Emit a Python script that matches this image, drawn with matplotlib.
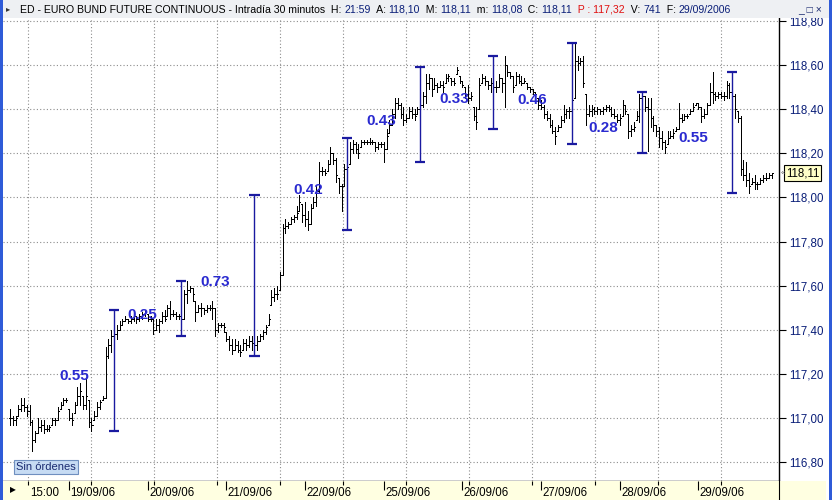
import numpy as np
import matplotlib
matplotlib.use("Agg")
import matplotlib.pyplot as plt
from matplotlib.patches import Rectangle
import matplotlib.transforms as mtransforms

plt.rcParams['font.family'] = ['Liberation Sans', 'DejaVu Sans']

# ---------------- data ----------------
day_labels = ['19/09/06', '20/09/06', '21/09/06', '22/09/06', '25/09/06',
              '26/09/06', '27/09/06', '28/09/06', '29/09/06']
day_start = [0, 21, 49, 77, 105, 133, 161, 189, 217, 245]

highs = [
    # 18/09
    117.04, 117.01, 117.01, 117.06, 117.09, 117.09, 117.06, 117.06, 116.99, 116.94, 117.00,
    116.99, 116.99, 116.97, 116.97, 117.00, 117.00, 117.05, 117.07, 117.09, 117.09,
    # 19/09
    117.04, 117.02, 117.07, 117.14, 117.16, 117.10, 117.18, 117.08, 117.00, 117.03, 117.07,
    117.08, 117.10, 117.32, 117.36, 117.40, 117.42, 117.42, 117.44, 117.45, 117.46, 117.45,
    117.46, 117.47, 117.46, 117.47, 117.48, 117.49,
    # 20/09
    117.47, 117.46, 117.45, 117.45, 117.45, 117.48, 117.49, 117.51, 117.53, 117.49, 117.48,
    117.47, 117.47, 117.58, 117.62, 117.60, 117.59, 117.53, 117.51, 117.52, 117.50, 117.51,
    117.51, 117.53, 117.50, 117.43, 117.43, 117.43,
    # 21/09
    117.39, 117.37, 117.36, 117.36, 117.35, 117.33, 117.36, 117.36, 117.37, 117.37, 117.38,
    117.37, 117.38, 117.40, 117.42, 117.47, 117.58, 117.59, 117.60, 117.66, 117.88, 117.90,
    117.89, 117.91, 117.92, 117.96, 118.01, 117.97,
    # 22/09
    117.98, 117.94, 117.97, 118.00, 118.05, 118.16, 118.14, 118.13, 118.17, 118.23, 118.20,
    118.18, 118.09, 118.06, 118.15, 118.16, 118.25, 118.26, 118.25, 118.24, 118.26, 118.26,
    118.26, 118.27, 118.26, 118.25, 118.25, 118.25,
    # 25/09
    118.25, 118.31, 118.35, 118.40, 118.45, 118.45, 118.43, 118.41, 118.38, 118.41, 118.41,
    118.40, 118.41, 118.44, 118.48, 118.56, 118.56, 118.54, 118.54, 118.52, 118.53, 118.53,
    118.56, 118.56, 118.54, 118.54, 118.59, 118.55,
    # 26/09
    118.53, 118.50, 118.51, 118.48, 118.41, 118.41, 118.54, 118.56, 118.55, 118.53, 118.54,
    118.52, 118.53, 118.56, 118.54, 118.64, 118.60, 118.57, 118.55, 118.57, 118.56, 118.55,
    118.54, 118.52, 118.50, 118.49, 118.48, 118.45,
    # 27/09
    118.44, 118.42, 118.39, 118.38, 118.35, 118.32, 118.33, 118.37, 118.42, 118.40, 118.41,
    118.46, 118.70, 118.64, 118.63, 118.64, 118.47, 118.42, 118.42, 118.41, 118.41, 118.40,
    118.41, 118.42, 118.42, 118.41, 118.40, 118.38,
    # 28/09
    118.38, 118.44, 118.42, 118.38, 118.33, 118.34, 118.39, 118.47, 118.48, 118.46, 118.45,
    118.45, 118.37, 118.33, 118.32, 118.30, 118.26, 118.30, 118.30, 118.31, 118.32, 118.43,
    118.38, 118.38, 118.38, 118.40, 118.43, 118.43,
    # 29/09
    118.43, 118.41, 118.40, 118.43, 118.52, 118.57, 118.48, 118.48, 118.48, 118.48, 118.53,
    118.52, 118.49, 118.47, 118.39, 118.37, 118.17, 118.16, 118.11, 118.09, 118.10, 118.07,
    118.09, 118.10, 118.11, 118.11, 118.11,
]

lows = [
    # 18/09
    116.97, 116.97, 116.97, 117.01, 117.03, 117.03, 117.01, 116.97, 116.85, 116.89, 116.93,
    116.94, 116.93, 116.94, 116.94, 116.97, 116.97, 116.99, 117.04, 117.06, 117.07,
    # 19/09
    116.99, 116.97, 117.02, 117.06, 117.06, 117.04, 117.04, 116.96, 116.94, 116.99, 117.01,
    117.04, 117.08, 117.09, 117.27, 117.30, 117.35, 117.36, 117.40, 117.42, 117.44, 117.43,
    117.43, 117.44, 117.43, 117.44, 117.45, 117.46,
    # 20/09
    117.44, 117.44, 117.38, 117.40, 117.39, 117.43, 117.44, 117.46, 117.45, 117.46, 117.45,
    117.45, 117.44, 117.45, 117.52, 117.57, 117.53, 117.44, 117.48, 117.46, 117.47, 117.48,
    117.49, 117.45, 117.37, 117.39, 117.41, 117.39,
    # 21/09
    117.35, 117.31, 117.29, 117.31, 117.30, 117.28, 117.31, 117.31, 117.32, 117.31, 117.30,
    117.31, 117.35, 117.36, 117.38, 117.42, 117.51, 117.53, 117.54, 117.58, 117.65, 117.84,
    117.86, 117.88, 117.89, 117.90, 117.94, 117.89,
    # 22/09
    117.87, 117.85, 117.88, 117.95, 117.96, 118.02, 118.10, 118.10, 118.12, 118.15, 118.15,
    118.07, 118.02, 117.94, 118.05, 118.12, 118.15, 118.20, 118.20, 118.18, 118.23, 118.24,
    118.24, 118.24, 118.24, 118.21, 118.22, 118.23,
    # 25/09
    118.16, 118.22, 118.29, 118.33, 118.36, 118.40, 118.36, 118.33, 118.34, 118.36, 118.36,
    118.35, 118.38, 118.37, 118.41, 118.43, 118.49, 118.46, 118.49, 118.48, 118.50, 118.48,
    118.52, 118.53, 118.51, 118.51, 118.56, 118.52,
    # 26/09
    118.50, 118.45, 118.43, 118.44, 118.35, 118.31, 118.40, 118.52, 118.51, 118.49, 118.48,
    118.47, 118.48, 118.50, 118.48, 118.41, 118.55, 118.54, 118.48, 118.51, 118.52, 118.51,
    118.52, 118.49, 118.48, 118.47, 118.46, 118.40,
    # 27/09
    118.40, 118.36, 118.35, 118.32, 118.29, 118.24, 118.30, 118.32, 118.34, 118.36, 118.36,
    118.39, 118.45, 118.58, 118.60, 118.50, 118.33, 118.37, 118.37, 118.38, 118.38, 118.38,
    118.38, 118.39, 118.39, 118.37, 118.36, 118.34,
    # 28/09
    118.33, 118.37, 118.38, 118.27, 118.28, 118.30, 118.35, 118.34, 118.42, 118.39, 118.21,
    118.32, 118.30, 118.28, 118.23, 118.22, 118.20, 118.24, 118.27, 118.27, 118.30, 118.31,
    118.34, 118.35, 118.36, 118.38, 118.39, 118.42,
    # 29/09
    118.40, 118.34, 118.36, 118.38, 118.42, 118.43, 118.44, 118.45, 118.45, 118.44, 118.45,
    118.45, 118.45, 118.36, 118.34, 118.10, 118.08, 118.05, 118.02, 118.06, 118.04, 118.04,
    118.06, 118.07, 118.08, 118.09, 118.09,
]

closes = [
    # 18/09
    117.00, 116.99, 117.00, 117.04, 117.06, 117.05, 117.03, 116.98, 116.90, 116.93, 116.96,
    116.97, 116.95, 116.95, 116.96, 116.99, 116.99, 117.03, 117.06, 117.08, 117.08,
    # 19/09
    117.00, 116.99, 117.06, 117.10, 117.12, 117.06, 117.10, 116.98, 116.97, 117.01, 117.05,
    117.07, 117.09, 117.28, 117.33, 117.37, 117.38, 117.40, 117.42, 117.44, 117.45, 117.44,
    117.45, 117.46, 117.45, 117.46, 117.47, 117.48,
    # 20/09
    117.45, 117.45, 117.40, 117.42, 117.44, 117.46, 117.45, 117.50, 117.47, 117.47, 117.46,
    117.46, 117.45, 117.56, 117.58, 117.59, 117.56, 117.48, 117.50, 117.50, 117.49, 117.50,
    117.50, 117.50, 117.40, 117.42, 117.42, 117.41,
    # 21/09
    117.36, 117.33, 117.31, 117.33, 117.31, 117.30, 117.34, 117.33, 117.35, 117.34, 117.33,
    117.35, 117.37, 117.39, 117.41, 117.45, 117.55, 117.56, 117.56, 117.65, 117.86, 117.87,
    117.88, 117.90, 117.91, 117.93, 117.98, 117.92,
    # 22/09
    117.90, 117.88, 117.95, 117.98, 118.03, 118.12, 118.12, 118.11, 118.15, 118.20, 118.17,
    118.10, 118.05, 118.00, 118.13, 118.14, 118.22, 118.24, 118.22, 118.20, 118.25, 118.25,
    118.25, 118.25, 118.25, 118.23, 118.24, 118.24,
    # 25/09
    118.22, 118.28, 118.33, 118.38, 118.43, 118.42, 118.38, 118.35, 118.36, 118.39, 118.38,
    118.37, 118.40, 118.42, 118.46, 118.52, 118.54, 118.49, 118.51, 118.50, 118.51, 118.50,
    118.54, 118.55, 118.53, 118.52, 118.58, 118.53,
    # 26/09
    118.51, 118.47, 118.45, 118.46, 118.37, 118.34, 118.51, 118.54, 118.53, 118.51, 118.52,
    118.50, 118.50, 118.54, 118.52, 118.60, 118.57, 118.55, 118.50, 118.55, 118.53, 118.52,
    118.53, 118.50, 118.49, 118.48, 118.47, 118.42,
    # 27/09
    118.41, 118.38, 118.36, 118.33, 118.30, 118.28, 118.32, 118.35, 118.38, 118.39, 118.39,
    118.44, 118.62, 118.61, 118.62, 118.52, 118.38, 118.39, 118.40, 118.39, 118.40, 118.39,
    118.40, 118.41, 118.40, 118.38, 118.37, 118.35,
    # 28/09
    118.36, 118.42, 118.39, 118.30, 118.31, 118.32, 118.37, 118.45, 118.46, 118.41, 118.40,
    118.36, 118.33, 118.30, 118.27, 118.25, 118.23, 118.27, 118.28, 118.29, 118.31, 118.36,
    118.35, 118.37, 118.37, 118.39, 118.41, 118.43,
    # 29/09
    118.41, 118.37, 118.38, 118.42, 118.48, 118.47, 118.46, 118.47, 118.46, 118.46, 118.51,
    118.48, 118.46, 118.40, 118.36, 118.13, 118.10, 118.08, 118.05, 118.07, 118.06, 118.06,
    118.08, 118.09, 118.09, 118.10, 118.11,
]

range_bar = [37, 61, 87, 120, 146, 172, 200, 225, 257]
range_text = ['0.55', '0.25', '0.73', '0.42', '0.43', '0.33', '0.46', '0.28', '0.55']

price_ticks = [116.8, 117.0, 117.2, 117.4, 117.6, 117.8, 118.0, 118.2, 118.4, 118.6, 118.8]
price_tick_labels = ['116,80', '117,00', '117,20', '117,40', '117,60', '117,80',
                     '118,00', '118,20', '118,40', '118,60', '118,80']
last_price_label = '118,11'
first_time_label = '15:00'

title_parts = [
    ("ED - EURO BUND FUTURE CONTINUOUS - Intradía 30 minutos  H: ", 'black'),
    ("21:59", '#0A1E78'), ("  A: ", 'black'), ("118,10", '#0A1E78'),
    ("  M: ", 'black'), ("118,11", '#0A1E78'), ("  m: ", 'black'), ("118,08", '#0A1E78'),
    ("  C: ", 'black'), ("118,11", '#0A1E78'), ("  P : 117,32", '#E01010'),
    ("  V: ", 'black'), ("741", '#0A1E78'), ("  F: ", 'black'), ("29/09/2006", '#0A1E78'),
]

# ---------------- figure ----------------
W, Hpx = 832, 500
fig = plt.figure(figsize=(W / 100, Hpx / 100), dpi=100)
fig.patch.set_facecolor('white')

def fx(px):
    return px / W

def fy(py):
    return 1 - py / Hpx

PX_PER_BAR = 2.81
X0PX = 10.0
AX_L, AX_R, AX_T, AX_B = 3, 779, 18, 481
xlim = ((AX_L - X0PX) / PX_PER_BAR, (AX_R - X0PX) / PX_PER_BAR)
PX_PER_PT = 220.5
ylim = (116.8 - (AX_B - 462) / PX_PER_PT, 116.8 + (462 - AX_T) / PX_PER_PT)

ax = fig.add_axes([fx(AX_L), fy(AX_B), fx(AX_R - AX_L), (AX_B - AX_T) / Hpx])
ax.set_xlim(*xlim)
ax.set_ylim(*ylim)
ax.set_facecolor('white')

grid_x = 6.4 + 22.42 * np.arange(12)
ax.set_xticks(grid_x)
ax.tick_params(axis='x', length=0, labelbottom=False)
ax.yaxis.tick_right()
ax.set_yticks(price_ticks, price_tick_labels)
ax.tick_params(axis='y', length=5, width=0.8, colors='black', pad=2,
               labelsize=8.3, labelcolor='#0A1E78')
ax.grid(True, color='#8c8c8c', linestyle=(0, (1, 2)), linewidth=0.8)
ax.set_axisbelow(True)
for s in ['left', 'top']:
    ax.spines[s].set_visible(False)
for s in ['right', 'bottom']:
    ax.spines[s].set_color('black')
    ax.spines[s].set_linewidth(1.0)

H = np.array(highs)
L = np.array(lows)
C = np.array(closes)
x = np.arange(len(C))
O = np.clip(np.r_[C[0], C[:-1]], L, H)

TICK = 0.36
ax.vlines(x, L, H, colors='black', linewidth=0.7, antialiased=False, zorder=3)
ax.hlines(O, x - TICK, x, colors='black', linewidth=0.7, antialiased=False, zorder=3)
ax.hlines(C, x, x + TICK, colors='black', linewidth=0.7, antialiased=False, zorder=3)

# daily range markers
bounds = day_start + [len(C)]
rng_col = '#1A1AA0'
for k, (rb, txt) in enumerate(zip(range_bar, range_text)):
    a, b = bounds[k + 1], bounds[k + 2]
    hi, lo = H[a:b].max(), L[a:b].min()
    ax.vlines(rb, lo, hi, colors=rng_col, linewidth=1.0, zorder=4)
    ax.hlines([lo, hi], rb - 1.8, rb + 1.8, colors=rng_col, linewidth=1.6, zorder=4)
    ax.annotate(txt, xy=(rb - 14, (hi + lo) / 2), xytext=(0, -6),
                textcoords='offset pixels', ha='center', va='center', color='#2A2AD0',
                fontsize=11, fontweight='bold', zorder=5)

# last price box
trans = mtransforms.blended_transform_factory(ax.transAxes, ax.transData)
ax.text(1 + 7 / (AX_R - AX_L), C[-1], last_price_label, transform=trans, ha='left',
        va='center', fontsize=8.3, color='black', clip_on=False,
        bbox=dict(boxstyle='square,pad=0.18', fc='#FFFFC8', ec='black', lw=0.8))
ax.text(1 + 2 / (AX_R - AX_L), C[-1], '«', transform=trans, ha='left', va='center',
        fontsize=6, color='#555555', clip_on=False)

# bottom date strip
axb = fig.add_axes([fx(AX_L), 0, fx(826 - AX_L), (Hpx - AX_B) / Hpx])
axb.set_xlim(xlim[0], xlim[0] + (xlim[1] - xlim[0]) * (826 - AX_L) / (AX_R - AX_L))
axb.set_ylim(0, 1)
axb.set_facecolor('#FFFFE1')
axb.set_xticks([])
axb.set_yticks([])
for s in axb.spines.values():
    s.set_visible(False)
axb.vlines(day_start[1:], 0.55, 1, colors='black', linewidth=0.8)
axb.vlines(grid_x, 0.78, 1, colors='black', linewidth=0.8)
axb.text(grid_x[0] + 0.7, 0.36, first_time_label, ha='left', va='center', fontsize=8.3)
for d, lab in zip(day_start[1:], day_labels):
    axb.text(d + 0.5, 0.36, lab, ha='left', va='center', fontsize=8.3)
axb.text(1.2, 0.5, '▶', ha='center', va='center', fontsize=5.5, color='black')
axb.axvline(xlim[1], color='black', lw=0.8)

# title bar
axt = fig.add_axes([0, fy(AX_T), 1, AX_T / Hpx])
axt.set_xlim(0, 1)
axt.set_ylim(0, 1)
axt.set_facecolor('#EEF0F3')
axt.set_xticks([])
axt.set_yticks([])
for s in axt.spines.values():
    s.set_visible(False)
prev = axt.text(fx(20), 0.45, title_parts[0][0], color=title_parts[0][1],
                fontsize=7.6, ha='left', va='center')
for s, c in title_parts[1:]:
    prev = axt.annotate(s, xy=(1, 0.5), xycoords=prev, ha='left', va='center',
                        color=c, fontsize=7.6, annotation_clip=False)
axt.text(fx(8), 0.45, '▸', ha='center', va='center', fontsize=6, color='#333333')
axt.text(fx(810), 0.42, '_ □ ×', ha='center', va='center', fontsize=7.5, color='#1A2A70')

# window frame borders
fig.add_artist(Rectangle((0, 0), fx(3), 1, transform=fig.transFigure,
                         fc='#2F5BD8', ec='none', zorder=10))
fig.add_artist(Rectangle((fx(829), 0), fx(3), 1, transform=fig.transFigure,
                         fc='#2F5BD8', ec='none', zorder=10))

# status box
fig.text(fx(16), fy(467), 'Sin órdenes', ha='left', va='center', fontsize=8,
         color='#1A2A70',
         bbox=dict(boxstyle='square,pad=0.2', fc='#C6DBF3', ec='#6F8FBF', lw=0.8))

fig.savefig('out.png', dpi=100)
